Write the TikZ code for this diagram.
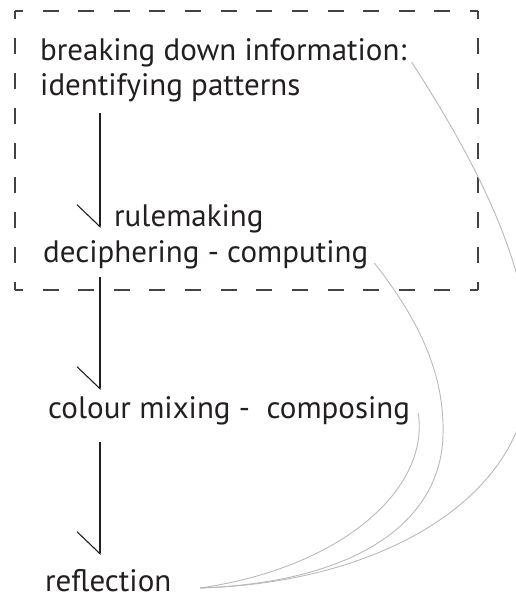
\documentclass[tikz,border=0pt]{standalone}
\usepackage{fontspec}
\setmainfont{PT Sans}
\usetikzlibrary{arrows.meta}
\definecolor{InkGray}{RGB}{35,31,32}
\definecolor{LinkGray}{RGB}{185,185,185}
\tikzset{
  phrase/.style={anchor=base west,inner sep=0pt,text=InkGray,font=\fontsize{31}{36}\selectfont},
  flow/.style={draw=InkGray,line width=1.1pt,-{Straight Barb[right,length=22pt,width=46pt]}},
  link/.style={draw=LinkGray,line width=0.9pt},
  frame/.style={draw=InkGray!85,line width=1.2pt},
}

\begin{document}
\begin{tikzpicture}[x=1pt,y=-1pt]
\useasboundingbox (0,0) rectangle (515,600);
% dashed frame round the first two steps
\coordinate (tl) at (15,11);
\coordinate (tr) at (478,11);
\coordinate (br) at (478,290);
\coordinate (bl) at (15,290);
\draw[frame,dash pattern=on 16pt off 19.615pt,dash phase=8pt] (tl) -- (tr);
\draw[frame,dash pattern=on 16pt off 19.615pt,dash phase=8pt] (bl) -- (br);
\draw[frame,dash pattern=on 16pt off 18.875pt,dash phase=8pt] (tl) -- (bl);
\draw[frame,dash pattern=on 16pt off 18.875pt,dash phase=8pt] (tr) -- (br);
% steps
\node[phrase] (brk) at (40,60) {breaking down information:};
\node[phrase] (pat) at (40,95) {identifying patterns};
\node[phrase] (rule) at (114,226) {rulemaking};
\node[phrase] (deci) at (43,262) {deciphering - computing};
\node[phrase] (mix) at (48,418) {colour mixing -\ \ composing};
\node[phrase] (refl) at (45,591) {reflection};
% arrows
\coordinate (t1) at (100,113);
\coordinate (h1) at (100,228);
\coordinate (t2) at (100,277);
\coordinate (h2) at (100,390);
\coordinate (t3) at (100,442);
\coordinate (h3) at (100,555);
\draw[flow] (t1) -- (h1);
\draw[flow] (t2) -- (h2);
\draw[flow] (t3) -- (h3);
% links back to reflection
\coordinate (meet) at (200,588);
\draw[link] ([xshift=5pt,yshift=-2pt]brk.base east) .. controls (475,160) and (540,280) .. (528,385)
  .. controls (518,500) and (380,583) .. (meet);
\draw[link] ([xshift=6pt,yshift=-1pt]deci.base east) .. controls (415,315) and (445,370) .. (443,435)
  .. controls (441,520) and (360,582) .. (meet);
\draw[link] ([xshift=8pt,yshift=5pt]mix.base east) .. controls (430,490) and (340,568) .. (meet);
\end{tikzpicture}
\end{document}
